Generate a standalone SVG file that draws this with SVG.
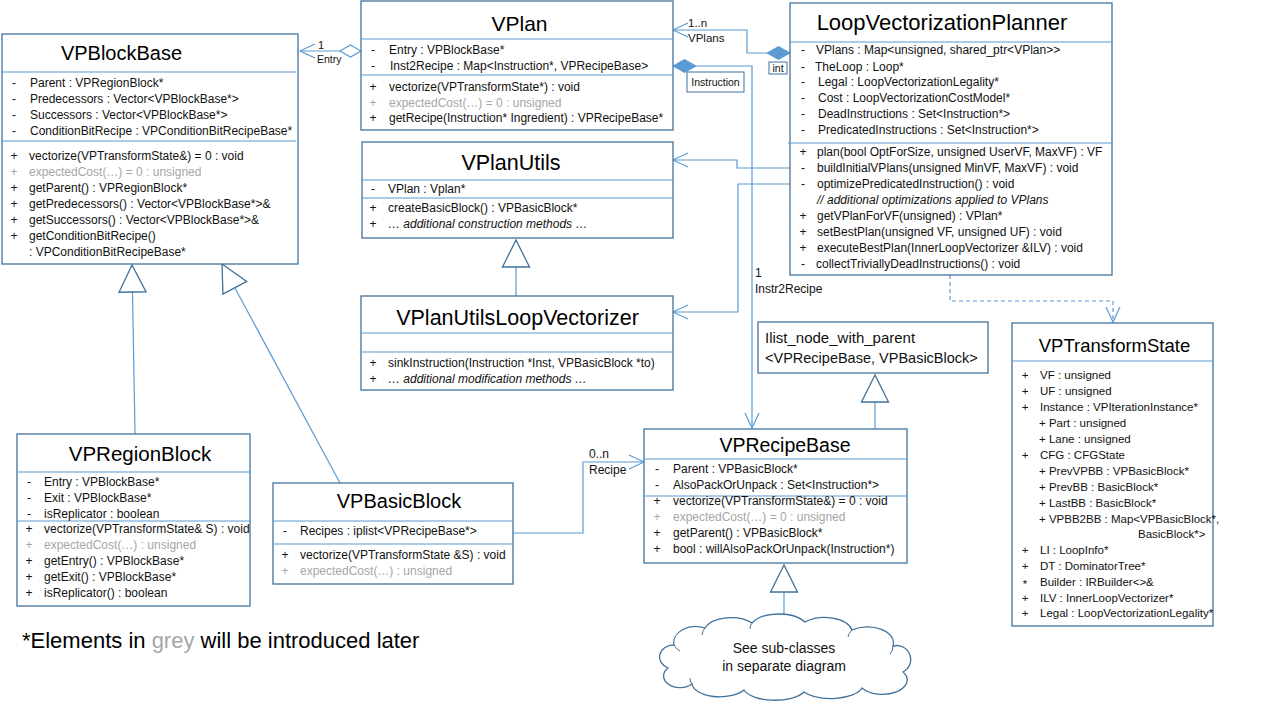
<svg xmlns="http://www.w3.org/2000/svg" width="1280" height="720" viewBox="0 0 1280 720">
<defs>
<style>
.box{fill:#fff;stroke:#41719C;stroke-width:1.3}
.dv{stroke:#5B9BD5;stroke-width:1.2;fill:none}
.t{font-family:"Liberation Sans",Arial,sans-serif;font-size:12px;fill:#111}
.s{text-anchor:middle}
.g{fill:#A6A6A6}
.i{font-style:italic}
.ti{font-family:"Liberation Sans",Arial,sans-serif;fill:#000;text-anchor:middle}
.ts{font-family:"Liberation Sans",Arial,sans-serif;font-size:11.5px;fill:#111}
.conn{stroke:#5B9BD5;stroke-width:1.2;fill:none}
.lbl{font-family:"Liberation Sans",Arial,sans-serif;fill:#111}
.tag{fill:#fff;stroke:#41719C;stroke-width:1}
</style>
<marker id="open" viewBox="-17 -9 19 18" refX="0" refY="0" markerWidth="19" markerHeight="18" markerUnits="userSpaceOnUse" orient="auto">
<path d="M-15,-7 L0,0 L-15,7" fill="none" stroke="#5B9BD5" stroke-width="1.2"/>
</marker>
<marker id="tri" viewBox="-29 -15 31 30" refX="0" refY="0" markerWidth="31" markerHeight="30" markerUnits="userSpaceOnUse" orient="auto">
<path d="M0,0 L-27,-13.5 L-27,13.5 Z" fill="#fff" stroke="#41719C" stroke-width="1.3"/>
</marker>
<marker id="dia" viewBox="-1 -8 24 16" refX="0" refY="0" markerWidth="24" markerHeight="16" markerUnits="userSpaceOnUse" orient="auto">
<path d="M0,0 L10.5,-6 L21,0 L10.5,6 Z" fill="#fff" stroke="#5B9BD5" stroke-width="1.2"/>
</marker>
<marker id="fdia" viewBox="-1 -8 26 16" refX="0" refY="0" markerWidth="26" markerHeight="16" markerUnits="userSpaceOnUse" orient="auto">
<path d="M0,0 L11.5,-6.5 L23,0 L11.5,6.5 Z" fill="#5B9BD5" stroke="#5B9BD5" stroke-width="1"/>
</marker>
</defs>
<rect width="1280" height="720" fill="#fff"/>

<g id="connectors">
<path class="conn" d="M361,51 L300,51" marker-start="url(#dia)" marker-end="url(#open)"/>
<path class="conn" d="M790,53 L747,53 L747,30 L673,30" marker-start="url(#fdia)" marker-end="url(#open)"/>
<path class="conn" d="M673,66 L752,66 L752,428" marker-start="url(#fdia)" marker-end="url(#open)"/>
<path class="conn" d="M790,168 L737,168 L737,160 L673,160" marker-end="url(#open)"/>
<path class="conn" d="M790,184 L738,184 L738,312 L673,312" marker-end="url(#open)"/>
<path class="conn" d="M950,275 L950,301 L1113,301 L1113,322" stroke-dasharray="4,3" marker-end="url(#open)"/>
<path class="conn" d="M513,533 L583,533 L583,462 L644,462" marker-end="url(#open)"/>
<path class="conn" d="M516,296 L516,240" marker-end="url(#tri)"/>
<path class="conn" d="M135,434 L132,265" marker-end="url(#tri)"/>
<path class="conn" d="M340,483 L222,264" marker-end="url(#tri)"/>
<path class="conn" d="M875,429 L875,375" marker-end="url(#tri)"/>
<path class="conn" d="M784,622 L784,565" marker-end="url(#tri)"/>
<text class="lbl" x="318" y="49" style="font-size:11px">1</text>
<text class="lbl" x="317" y="63" style="font-size:10.5px">Entry</text>
<text class="lbl" x="688" y="27" style="font-size:11.5px">1..n</text>
<text class="lbl" x="688" y="42" style="font-size:11.5px">VPlans</text>
<rect class="tag" x="769" y="62" width="18" height="12"/>
<text class="lbl" x="778" y="72" style="font-size:10.5px;text-anchor:middle">int</text>
<rect class="tag" x="687" y="72" width="57" height="20"/>
<text class="lbl" x="715.5" y="86" style="font-size:10.5px;text-anchor:middle">Instruction</text>
<text class="lbl" x="755" y="277" style="font-size:12px">1</text>
<text class="lbl" x="755" y="293" style="font-size:12px">Instr2Recipe</text>
<text class="lbl" x="589" y="458" style="font-size:12px">0..n</text>
<text class="lbl" x="589" y="474" style="font-size:12px">Recipe</text>
</g>

<g id="VPBlockBase">
<rect class="box" x="2" y="34" width="296" height="230"/>
<text class="ti" x="121.5" y="60" font-size="20">VPBlockBase</text>
<line class="dv" x1="2" y1="72" x2="296" y2="72"/>
<line class="dv" x1="2" y1="141" x2="296" y2="141"/>
<g class="t">
<text class="s" x="14" y="87">-</text><text x="30" y="87">Parent : VPRegionBlock*</text>
<text class="s" x="14" y="103">-</text><text x="30" y="103">Predecessors : Vector&lt;VPBlockBase*&gt;</text>
<text class="s" x="14" y="119">-</text><text x="30" y="119">Successors : Vector&lt;VPBlockBase*&gt;</text>
<text class="s" x="14" y="135">-</text><text x="30" y="135">ConditionBitRecipe : VPConditionBitRecipeBase*</text>
<text class="s" x="14" y="160">+</text><text x="29" y="160">vectorize(VPTransformState&amp;) = 0 : void</text>
<text class="s g" x="14" y="176">+</text><text class="g" x="29" y="176">expectedCost(…)  = 0 : unsigned</text>
<text class="s" x="14" y="192">+</text><text x="29" y="192">getParent() : VPRegionBlock*</text>
<text class="s" x="14" y="208">+</text><text x="29" y="208">getPredecessors() : Vector&lt;VPBlockBase*&gt;&amp;</text>
<text class="s" x="14" y="224">+</text><text x="29" y="224">getSuccessors() : Vector&lt;VPBlockBase*&gt;&amp;</text>
<text class="s" x="14" y="240">+</text><text x="29" y="240">getConditionBitRecipe()</text>
<text x="29" y="256">: VPConditionBitRecipeBase*</text>
</g>
</g>

<g id="VPlan">
<rect class="box" x="361" y="1" width="312" height="129"/>
<text class="ti" x="519.5" y="30.5" font-size="21">VPlan</text>
<line class="dv" x1="361" y1="39" x2="673" y2="39"/>
<line class="dv" x1="361" y1="75" x2="673" y2="75"/>
<g class="t">
<text class="s" x="373" y="54">-</text><text x="389" y="54">Entry : VPBlockBase*</text>
<text class="s" x="373" y="70">-</text><text x="390" y="70">Inst2Recipe : Map&lt;Instruction*, VPRecipeBase&gt;</text>
<text class="s" x="373" y="91">+</text><text x="389" y="91">vectorize(VPTransformState*) : void</text>
<text class="s g" x="373" y="107">+</text><text class="g" x="389" y="107">expectedCost(…)  = 0 : unsigned</text>
<text class="s" x="373" y="122">+</text><text x="389" y="122">getRecipe(Instruction* Ingredient) : VPRecipeBase*</text>
</g>
</g>

<g id="LoopVectorizationPlanner">
<rect class="box" x="790" y="3" width="322" height="272"/>
<text class="ti" x="942" y="30" font-size="22">LoopVectorizationPlanner</text>
<line class="dv" x1="790" y1="42" x2="1112" y2="42"/>
<line class="dv" x1="788" y1="143" x2="1112" y2="143"/>
<g class="t">
<text class="s" x="803" y="54">-</text><text x="816" y="54">VPlans : Map&lt;unsigned, shared_ptr&lt;VPlan&gt;&gt;</text>
<text class="s" x="803" y="71">-</text><text x="815" y="71">TheLoop  : Loop*</text>
<text class="s" x="803" y="86">-</text><text x="818" y="86">Legal : LoopVectorizationLegality*</text>
<text class="s" x="803" y="102">-</text><text x="818" y="102">Cost : LoopVectorizationCostModel*</text>
<text class="s" x="803" y="118">-</text><text x="818" y="118">DeadInstructions : Set&lt;Instruction*&gt;</text>
<text class="s" x="803" y="134">-</text><text x="818" y="134">PredicatedInstructions : Set&lt;Instruction*&gt;</text>
<text class="s" x="803" y="156">+</text><text x="817" y="156">plan(bool OptForSize, unsigned UserVF, MaxVF) : VF</text>
<text class="s" x="803" y="172">-</text><text x="817" y="172">buildInitialVPlans(unsigned MinVF, MaxVF) : void</text>
<text class="s" x="803" y="188">-</text><text x="817" y="188">optimizePredicatedInstruction() : void</text>
<text class="i" x="817" y="204">// additional optimizations applied to VPlans</text>
<text class="s" x="803" y="220">+</text><text x="817" y="220">getVPlanForVF(unsigned) : VPlan*</text>
<text class="s" x="803" y="236">+</text><text x="817" y="236">setBestPlan(unsigned VF, unsigned UF) : void</text>
<text class="s" x="803" y="252">+</text><text x="817" y="252">executeBestPlan(InnerLoopVectorizer &amp;ILV) : void</text>
<text class="s" x="803" y="268">-</text><text x="816" y="268">collectTriviallyDeadInstructions() : void</text>
</g>
</g>

<g id="VPlanUtils">
<rect class="box" x="362" y="142" width="311" height="96"/>
<text class="ti" x="511" y="170" font-size="21.5">VPlanUtils</text>
<line class="dv" x1="362" y1="180" x2="673" y2="180"/>
<line class="dv" x1="362" y1="198" x2="673" y2="198"/>
<g class="t">
<text class="s" x="373" y="193">-</text><text x="388" y="193">VPlan : Vplan*</text>
<text class="s" x="373" y="212">+</text><text x="388" y="212">createBasicBlock() : VPBasicBlock*</text>
<text class="s" x="373" y="228">+</text><text class="i" x="388" y="228">… additional construction  methods …</text>
</g>
</g>

<g id="VPlanUtilsLoopVectorizer">
<rect class="box" x="361" y="296" width="312" height="94"/>
<text class="ti" x="517.5" y="325" font-size="21.5">VPlanUtilsLoopVectorizer</text>
<line class="dv" x1="361" y1="333" x2="673" y2="333"/>
<line class="dv" x1="361" y1="352" x2="673" y2="352"/>
<g class="t">
<text class="s" x="373" y="367">+</text><text x="388" y="367">sinkInstruction(Instruction *Inst, VPBasicBlock *to)</text>
<text class="s" x="373" y="383">+</text><text class="i" x="388" y="383">… additional modification methods …</text>
</g>
</g>

<g id="VPRegionBlock">
<rect class="box" x="17" y="434" width="233" height="172"/>
<text class="ti" x="140" y="460.5" font-size="20.5">VPRegionBlock</text>
<line class="dv" x1="17" y1="472" x2="250" y2="472"/>
<line class="dv" x1="17" y1="521" x2="250" y2="521"/>
<g class="t">
<text class="s" x="29" y="486">-</text><text x="44" y="486">Entry : VPBlockBase*</text>
<text class="s" x="29" y="502">-</text><text x="44" y="502">Exit : VPBlockBase*</text>
<text class="s" x="29" y="518">-</text><text x="44" y="518">isReplicator : boolean</text>
<text class="s" x="29" y="533">+</text><text x="44" y="533">vectorize(VPTransformState&amp; S) : void</text>
<text class="s g" x="29" y="549">+</text><text class="g" x="44" y="549">expectedCost(…)  : unsigned</text>
<text class="s" x="29" y="565">+</text><text x="44" y="565">getEntry()  : VPBlockBase*</text>
<text class="s" x="29" y="581">+</text><text x="44" y="581">getExit() : VPBlockBase*</text>
<text class="s" x="29" y="597">+</text><text x="44" y="597">isReplicator() : boolean</text>
</g>
</g>

<g id="VPBasicBlock">
<rect class="box" x="273" y="483" width="240" height="101"/>
<text class="ti" x="399" y="508" font-size="20">VPBasicBlock</text>
<line class="dv" x1="273" y1="521" x2="513" y2="521"/>
<line class="dv" x1="273" y1="544" x2="513" y2="544"/>
<g class="t">
<text class="s" x="285" y="535">-</text><text x="300" y="535">Recipes : iplist&lt;VPRecipeBase*&gt;</text>
<text class="s" x="285" y="559">+</text><text x="300" y="559">vectorize(VPTransformState &amp;S) : void</text>
<text class="s g" x="285" y="575">+</text><text class="g" x="300" y="575">expectedCost(…)  : unsigned</text>
</g>
</g>

<g id="VPRecipeBase">
<rect class="box" x="644" y="429" width="263" height="134"/>
<text class="ti" x="785" y="452" font-size="19.5">VPRecipeBase</text>
<line class="dv" x1="644" y1="459" x2="907" y2="459"/>
<line class="dv" x1="644" y1="496" x2="907" y2="496"/>
<g class="t">
<text class="s" x="657" y="473">-</text><text x="673" y="473">Parent : VPBasicBlock*</text>
<text class="s" x="657" y="489">-</text><text x="673" y="489">AlsoPackOrUnpack : Set&lt;Instruction*&gt;</text>
<text class="s" x="657" y="505">+</text><text x="673" y="505">vectorize(VPTransformState&amp;) = 0 : void</text>
<text class="s g" x="657" y="521">+</text><text class="g" x="673" y="521">expectedCost(…)  = 0 : unsigned</text>
<text class="s" x="657" y="537">+</text><text x="673" y="537">getParent()  : VPBasicBlock*</text>
<text class="s" x="657" y="553">+</text><text x="673" y="553">bool : willAlsoPackOrUnpack(Instruction*)</text>
</g>
</g>

<g id="IlistNodeWithParent">
<rect class="box" x="758" y="322" width="230" height="51"/>
<text class="t" x="765" y="343" style="font-size:15px">Ilist_node_with_parent</text>
<text class="t" x="765" y="363" style="font-size:14.5px">&lt;VPRecipeBase, VPBasicBlock&gt;</text>
</g>

<g id="VPTransformState">
<rect class="box" x="1012" y="323" width="201" height="303"/>
<text class="ti" x="1114.5" y="352" font-size="18.5">VPTransformState</text>
<line class="dv" x1="1012" y1="361" x2="1213" y2="361"/>
<g class="ts">
<text class="s" x="1025" y="379">+</text><text x="1040" y="379">VF : unsigned</text>
<text class="s" x="1025" y="395">+</text><text x="1040" y="395">UF : unsigned</text>
<text class="s" x="1025" y="411">+</text><text x="1040" y="411">Instance : VPIterationInstance*</text>
<text x="1039" y="427">+ Part : unsigned</text>
<text x="1039" y="443">+ Lane : unsigned</text>
<text class="s" x="1025" y="459">+</text><text x="1040" y="459">CFG : CFGState</text>
<text x="1039" y="475">+ PrevVPBB : VPBasicBlock*</text>
<text x="1039" y="491">+ PrevBB : BasicBlock*</text>
<text x="1039" y="507">+ LastBB : BasicBlock*</text>
<text x="1039" y="523">+ VPBB2BB : Map&lt;VPBasicBlock*,</text>
<text x="1138" y="538">BasicBlock*&gt;</text>
<text class="s" x="1025" y="554">+</text><text x="1040" y="554">LI : LoopInfo*</text>
<text class="s" x="1025" y="570">+</text><text x="1040" y="570">DT : DominatorTree*</text>
<text class="s" x="1025" y="588">*</text><text x="1040" y="586">Builder : IRBuilder&lt;&gt;&amp;</text>
<text class="s" x="1025" y="602">+</text><text x="1040" y="602">ILV : InnerLoopVectorizer*</text>
<text class="s" x="1025" y="617">+</text><text x="1040" y="617">Legal : LoopVectorizationLegality*</text>
</g>
</g>

<g id="SubclassesCloud">
<path d="M668,668 A14,12 0 0 1 674,645 A22,16 0 0 1 705,628 A28,16 0 0 1 752,623 A30,16 0 0 1 805,622 A28,16 0 0 1 852,630 A26,16 0 0 1 893,646 A14,14 0 0 1 903,672 A24,14 0 0 1 862,688 A32,14 0 0 1 804,692 A32,14 0 0 1 744,690 A28,14 0 0 1 692,684 A14,10 0 0 1 668,668 Z" fill="#fff" stroke="#41719C" stroke-width="1.3"/>
<path d="M674,645 A16,12 0 0 0 680,651 M705,628 A20,14 0 0 0 702,635 M752,623 A22,14 0 0 0 750,629 M852,630 A20,14 0 0 0 848,637 M893,646 A14,12 0 0 1 890,654 M692,684 A14,10 0 0 1 690,678" fill="none" stroke="#41719C" stroke-width="1"/>
<text class="t" x="784" y="653" style="font-size:14px;text-anchor:middle">See sub-classes</text>
<text class="t" x="784" y="671" style="font-size:14px;text-anchor:middle">in separate diagram</text>
</g>

<g id="Note">
<text font-family="Liberation Sans, Arial, sans-serif" font-size="22" x="22" y="648" fill="#000">*Elements in <tspan fill="#A6A6A6">grey</tspan> will be introduced later</text>
</g>
</svg>
